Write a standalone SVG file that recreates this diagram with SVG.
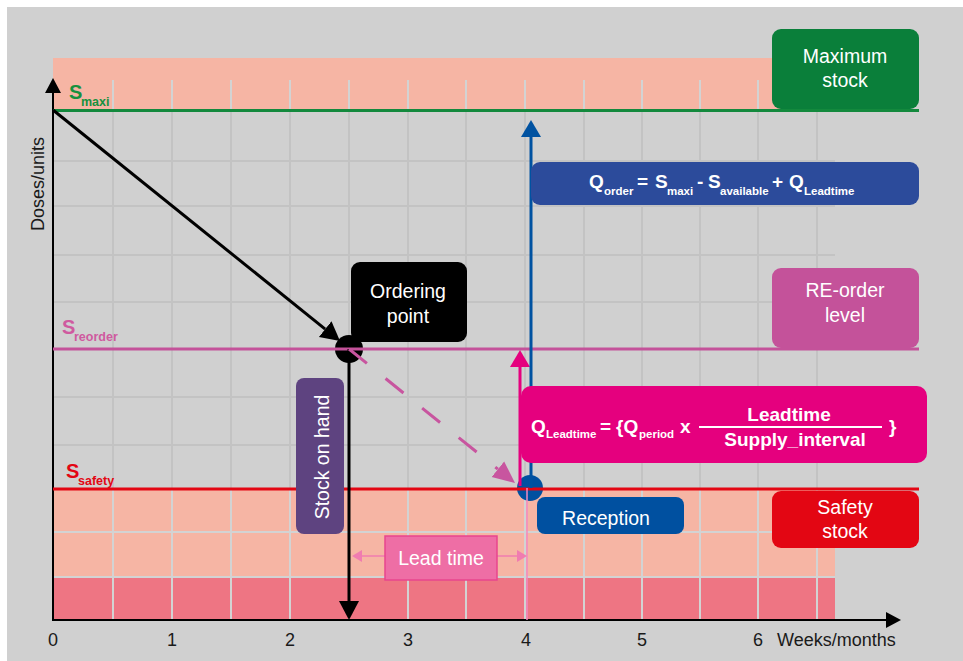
<svg xmlns="http://www.w3.org/2000/svg" width="963" height="661" viewBox="0 0 963 661">
<style>
  .lbl{font-family:"Liberation Sans",Arial,sans-serif;fill:#1a1a1a;font-size:18px}
  .box{font-family:"Liberation Sans",Arial,sans-serif;fill:#ffffff;font-size:19.5px;text-anchor:middle}
  .fb{font-family:"Liberation Sans",Arial,sans-serif;fill:#ffffff;font-weight:bold;font-size:19px}
  .sub{font-size:11.5px}
  .sl{font-family:"Liberation Sans",Arial,sans-serif;font-weight:bold;font-size:20px}
  .sls{font-size:12.5px}
  .gridA{stroke:#c3c3c3;stroke-width:2;fill:none}
  .gridB{stroke:#d3d3d3;stroke-width:2;fill:none}
</style>
<defs>
  <marker id="mAxis" markerUnits="userSpaceOnUse" viewBox="0 -9 16 18" markerWidth="16" markerHeight="18" refX="0" refY="0" orient="auto"><path d="M0,-8 L15,0 L0,8z" fill="#000"/></marker>
  <marker id="mBlack" markerUnits="userSpaceOnUse" viewBox="0 -11 20 22" markerWidth="20" markerHeight="22" refX="0" refY="0" orient="auto"><path d="M0,-10 L19,0 L0,10z" fill="#000"/></marker>
  <marker id="mBlue" markerUnits="userSpaceOnUse" viewBox="0 -11 20 22" markerWidth="20" markerHeight="22" refX="0" refY="0" orient="auto"><path d="M0,-10 L17,0 L0,10z" fill="#0052a1"/></marker>
  <marker id="mMag" markerUnits="userSpaceOnUse" viewBox="0 -11 20 22" markerWidth="20" markerHeight="22" refX="0" refY="0" orient="auto"><path d="M0,-10 L17,0 L0,10z" fill="#e5007e"/></marker>
  <marker id="mDash" markerUnits="userSpaceOnUse" viewBox="0 -11 24 22" markerWidth="24" markerHeight="22" refX="0" refY="0" orient="auto"><path d="M0,-10 L22,0 L0,10z" fill="#c8559f"/></marker>
  <marker id="mLead" markerUnits="userSpaceOnUse" viewBox="0 -7 12 14" markerWidth="12" markerHeight="14" refX="0" refY="0" orient="auto-start-reverse"><path d="M0,-6 L10,0 L0,6z" fill="#f07cb0"/></marker>
</defs>

<g id="background">
  <rect x="7" y="7" width="956" height="654" fill="#d0d0d0"/>
  <rect x="53" y="58" width="782" height="52" fill="#f6b5a4"/>
  <rect x="53" y="489" width="782" height="88" fill="#f6b5a4"/>
  <rect x="53" y="577" width="782" height="43" fill="#ee7583"/>
</g>

<g id="grid">
  <path class="gridA" d="M113 110V489M172 110V489M231 110V489M290 110V489M349 110V489M408 110V489M466 110V489M525 110V489M584 110V489M642 110V489M700 110V489M758 110V489M817 110V489M53 161H835M53 206H835M53 255H835M53 302H835M53 397H835M53 445H835"/>
  <path class="gridB" d="M113 80V110M172 80V110M231 80V110M290 80V110M349 80V110M408 80V110M466 80V110M525 80V110M584 80V110M642 80V110M700 80V110M758 80V110M817 80V110M113 489V620M172 489V620M231 489V620M290 489V620M349 489V620M408 489V620M466 489V620M525 489V620M584 489V620M642 489V620M700 489V620M758 489V620M817 489V620M53 532H835M53 577H835"/>
</g>

<g id="axes">
  <line x1="53" y1="621" x2="53" y2="93" stroke="#000" stroke-width="2" marker-end="url(#mAxis)"/>
  <line x1="52" y1="620" x2="886" y2="620" stroke="#000" stroke-width="2" marker-end="url(#mAxis)"/>
  <g class="lbl" text-anchor="middle">
    <text x="53" y="646">0</text>
    <text x="172" y="646">1</text>
    <text x="290" y="646">2</text>
    <text x="408" y="646">3</text>
    <text x="526" y="646">4</text>
    <text x="642" y="646">5</text>
    <text x="758" y="646">6</text>
  </g>
  <text class="lbl" x="777" y="646">Weeks/months</text>
  <text class="lbl" text-anchor="middle" transform="translate(44,184) rotate(-90)">Doses/units</text>
</g>

<g id="points">
  <circle cx="349" cy="349" r="14" fill="#000"/>
  <circle cx="530" cy="488" r="13" fill="#0050a0"/>
</g>

<g id="levels">
  <line x1="53" y1="110.5" x2="919" y2="110.5" stroke="#13893d" stroke-width="3"/>
  <line x1="53" y1="349" x2="919" y2="349" stroke="#c4529a" stroke-width="3"/>
  <line x1="53" y1="489" x2="919" y2="489" stroke="#e30613" stroke-width="3"/>
  <text class="sl" fill="#16913f"><tspan x="69" y="99">S</tspan><tspan class="sls" x="81" y="106">maxi</tspan></text>
  <text class="sl" fill="#cf5a9f"><tspan x="62" y="334">S</tspan><tspan class="sls" x="74" y="341">reorder</tspan></text>
  <text class="sl" fill="#e30613"><tspan x="66" y="478">S</tspan><tspan class="sls" x="78" y="485">safety</tspan></text>
</g>

<g id="connectors">
  <line x1="53" y1="110" x2="325.2" y2="329.1" stroke="#000" stroke-width="3" marker-end="url(#mBlack)"/>
  <line x1="349" y1="349" x2="349" y2="601" stroke="#000" stroke-width="3" marker-end="url(#mBlack)"/>
  <line x1="349" y1="349" x2="497.9" y2="469.2" stroke="#c8559f" stroke-width="3" stroke-dasharray="23 24" marker-end="url(#mDash)"/>
  <line x1="520" y1="486" x2="520" y2="367" stroke="#e5007e" stroke-width="3" marker-end="url(#mMag)"/>
  <line x1="531" y1="488" x2="531" y2="137" stroke="#0052a1" stroke-width="3" marker-end="url(#mBlue)"/>
  <line x1="527" y1="488" x2="527" y2="620" stroke="#f28ac0" stroke-width="1.5"/>
  <line x1="362" y1="556" x2="517" y2="556" stroke="#f07cb0" stroke-width="1.5" marker-start="url(#mLead)" marker-end="url(#mLead)"/>
</g>

<g id="node-maximum-stock">
  <rect x="772" y="29" width="147" height="80" rx="9" fill="#0a7f3a"/>
  <text class="box" x="845" y="63">Maximum</text>
  <text class="box" x="845" y="87">stock</text>
</g>

<g id="node-qorder">
  <rect x="531" y="162" width="388" height="43" rx="9" fill="#2c4b9b"/>
  <text class="fb"><tspan x="589" y="188">Q</tspan><tspan class="sub" x="604" y="195">order</tspan><tspan x="637" y="188">=</tspan><tspan x="655" y="188">S</tspan><tspan class="sub" x="667" y="195">maxi</tspan><tspan x="697" y="188">-</tspan><tspan x="708" y="188">S</tspan><tspan class="sub" x="720" y="195">available</tspan><tspan x="772" y="188">+</tspan><tspan x="789" y="188">Q</tspan><tspan class="sub" x="804" y="195">Leadtime</tspan></text>
</g>

<g id="node-reorder-level">
  <rect x="772" y="268" width="147" height="80" rx="9" fill="#c4529a"/>
  <text class="box" x="845" y="297">RE-order</text>
  <text class="box" x="845" y="322">level</text>
</g>

<g id="node-ordering-point">
  <rect x="351" y="262" width="116" height="80" rx="9" fill="#000"/>
  <text class="box" x="408" y="298">Ordering</text>
  <text class="box" x="408" y="323">point</text>
</g>

<g id="node-stock-on-hand">
  <rect x="296" y="378" width="48" height="156" rx="8" fill="#5e4380"/>
  <text class="box" font-size="19" transform="translate(329,457) rotate(-90)">Stock on hand</text>
</g>

<g id="node-qleadtime">
  <rect x="521" y="386" width="406" height="77" rx="10" fill="#e5007e"/>
  <text class="fb"><tspan x="531" y="433">Q</tspan><tspan class="sub" x="546" y="438">Leadtime</tspan><tspan x="600" y="433">=</tspan><tspan x="616" y="433">{Q</tspan><tspan class="sub" x="639" y="438">period</tspan><tspan x="680" y="433">x</tspan></text>
  <line x1="699" y1="427" x2="882" y2="427" stroke="#ffffff" stroke-width="2"/>
  <text class="fb" text-anchor="middle" x="789" y="421">Leadtime</text>
  <text class="fb" text-anchor="middle" x="795" y="446">Supply_interval</text>
  <text class="fb" x="889" y="433">}</text>
</g>

<g id="node-reception">
  <rect x="537" y="497" width="147" height="37" rx="8" fill="#0050a0"/>
  <text class="box" x="606" y="525">Reception</text>
</g>

<g id="node-safety-stock">
  <rect x="772" y="491" width="147" height="57" rx="9" fill="#e30613"/>
  <text class="box" x="845" y="514">Safety</text>
  <text class="box" x="845" y="538">stock</text>
</g>

<g id="node-lead-time">
  <rect x="385" y="536" width="112" height="44" fill="#ee6ea5" stroke="#e8468e" stroke-width="1.5"/>
  <text class="box" x="441" y="565">Lead time</text>
</g>
</svg>
